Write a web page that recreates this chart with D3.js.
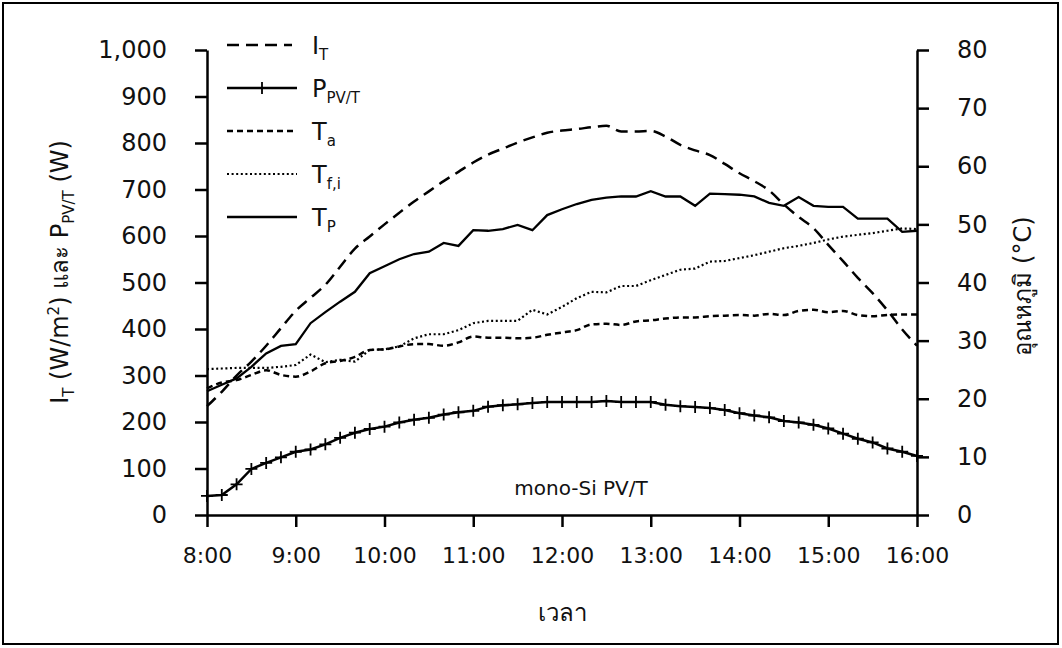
<!DOCTYPE html>
<html>
<head>
<meta charset="utf-8">
<script src="https://cdn.jsdelivr.net/npm/d3@7"></script>
<style>
  body { margin: 0; background: #fff; }
  svg { display: block; }
  text { font-family: 'DejaVu Sans', Tahoma, sans-serif; fill: #111; }
  .axis path, .axis line { stroke: #000; stroke-width: 2.5; }
  .axis text { font-family: 'DejaVu Sans', Tahoma, sans-serif; fill: #111; }
</style>
</head>
<body>
<svg width="1062" height="648"></svg>
<script>
// time of each reading, every 10 minutes
var times = ['8:00','8:10','8:20','8:30','8:40','8:50','9:00','9:10','9:20','9:30','9:40','9:50',
	'10:00','10:10','10:20','10:30','10:40','10:50','11:00','11:10','11:20','11:30','11:40','11:50',
	'12:00','12:10','12:20','12:30','12:40','12:50','13:00','13:10','13:20','13:30','13:40','13:50',
	'14:00','14:10','14:20','14:30','14:40','14:50','15:00','15:10','15:20','15:30','15:40','15:50','16:00'];

// solar irradiance I_T (W/m2), left axis
var irradiance = [234, 265, 300, 330, 364, 402, 439, 467, 495, 534, 573, 599, 625, 650, 674, 696, 718,
	738, 758, 775, 788, 801, 812, 822, 827, 830, 834, 837, 825, 825, 826, 814, 796,
	784, 774, 755, 735, 718, 698, 668, 641, 617, 581, 546, 510, 477, 440, 399, 364];

// electrical power P_PV/T (W), left axis
var power = [41, 43, 66, 99, 112, 124, 136, 141, 152, 166, 177, 185, 190, 199, 205, 209, 216,
	221, 224, 233, 236, 238, 241, 243, 243, 243, 243, 245, 243, 243, 243, 237, 234,
	232, 230, 226, 219, 214, 210, 202, 199, 194, 186, 175, 164, 156, 143, 136, 127];

// temperatures (C), right axis
var ambientTemp = [21.8, 22.8, 23.2, 24.1, 24.9, 24.1, 23.8, 24.7, 26.1, 26.5, 27.2, 28.4, 28.5, 29.0, 29.4, 29.4, 29.1,
	29.7, 30.7, 30.5, 30.5, 30.4, 30.5, 31.0, 31.4, 31.8, 32.8, 32.9, 32.7, 33.3, 33.5, 33.8, 34.0,
	34.0, 34.2, 34.3, 34.4, 34.3, 34.6, 34.4, 35.1, 35.3, 34.9, 35.1, 34.4, 34.2, 34.4, 34.5, 34.5];

var fluidInletTemp = [25.1, 25.2, 25.3, 25.3, 25.3, 25.5, 25.8, 27.6, 26.3, 26.7, 26.4, 28.4, 28.5, 29.0, 30.4, 31.1, 31.1,
	31.8, 33.0, 33.4, 33.4, 33.4, 35.3, 34.5, 35.8, 37.3, 38.4, 38.3, 39.4, 39.4, 40.4, 41.3, 42.2,
	42.4, 43.6, 43.7, 44.2, 44.7, 45.3, 45.9, 46.3, 46.8, 47.4, 47.9, 48.2, 48.5, 48.9, 49.3, 49.2];

var plateTemp = [21.3, 22.4, 23.5, 25.5, 27.8, 29.1, 29.4, 33.0, 34.9, 36.7, 38.4, 41.6, 42.8, 44.0, 44.9, 45.3, 46.8,
	46.3, 49.0, 48.9, 49.2, 49.9, 49.0, 51.6, 52.6, 53.5, 54.2, 54.6, 54.8, 54.8, 55.7, 54.8, 54.8,
	53.2, 55.3, 55.2, 55.1, 54.8, 53.7, 53.2, 54.7, 53.2, 53.0, 53.0, 51.0, 51.0, 51.0, 48.7, 48.9];

var hourTicks = ['8:00','9:00','10:00','11:00','12:00','13:00','14:00','15:00','16:00'];
var leftTicks = [0, 100, 200, 300, 400, 500, 600, 700, 800, 900, 1000];
var rightTicks = [0, 10, 20, 30, 40, 50, 60, 70, 80];

function toMinutes(s) {
	var parts = s.split(':');
	return +parts[0] * 60 + +parts[1];
}

var svg = d3.select('svg');

var plot = {l: 207, r: 917, t: 50, b: 515};

svg.append('rect')
	.attr('x', 3).attr('y', 3)
	.attr('width', 1055).attr('height', 641)
	.attr('fill', 'none')
	.attr('stroke', '#000')
	.attr('stroke-width', 2);

var xScale = d3.scaleLinear()
	.domain([toMinutes(times[0]), toMinutes(times[times.length - 1])])
	.range([plot.l, plot.r]);

var yLeft = d3.scaleLinear().domain([0, 1000]).range([plot.b, plot.t]);
var yRight = d3.scaleLinear().domain([0, 80]).range([plot.b, plot.t]);

// axes
svg.append('g')
	.attr('class', 'axis')
	.attr('transform', 'translate(0,' + plot.b + ')')
	.call(d3.axisBottom(xScale)
		.tickValues(hourTicks.map(toMinutes))
		.tickFormat(function(d, i) { return hourTicks[i]; })
		.tickSize(12).tickSizeOuter(0).tickPadding(20))
	.selectAll('text').style('font-size', '22px');

svg.append('g')
	.attr('class', 'axis')
	.attr('transform', 'translate(' + plot.l + ',0)')
	.call(d3.axisLeft(yLeft)
		.tickValues(leftTicks)
		.tickFormat(d3.format(','))
		.tickSize(12).tickSizeOuter(0).tickPadding(28))
	.selectAll('text').style('font-size', '24px');

svg.append('g')
	.attr('class', 'axis')
	.attr('transform', 'translate(' + plot.r + ',0)')
	.call(d3.axisRight(yRight)
		.tickValues(rightTicks)
		.tickSize(12).tickSizeOuter(0).tickPadding(28))
	.selectAll('text').style('font-size', '24px');

// series
function makeLine(scale, values, curve) {
	return d3.line()
		.x(function(d, i) { return xScale(toMinutes(times[i])); })
		.y(function(d) { return scale(d); })
		.curve(curve)(values);
}

var series = [
	{values: irradiance, scale: yLeft, dash: '12,7', width: 2.5, curve: d3.curveMonotoneX},
	{values: power, scale: yLeft, dash: null, width: 2.5, curve: d3.curveLinear},
	{values: ambientTemp, scale: yRight, dash: '6,4', width: 2.5, curve: d3.curveMonotoneX},
	{values: fluidInletTemp, scale: yRight, dash: '2,2.6', width: 2.2, curve: d3.curveLinear},
	{values: plateTemp, scale: yRight, dash: null, width: 2.3, curve: d3.curveLinear}
];

series.forEach(function(s) {
	svg.append('path')
		.attr('d', makeLine(s.scale, s.values, s.curve))
		.attr('fill', 'none')
		.attr('stroke', '#000')
		.attr('stroke-width', s.width)
		.attr('stroke-dasharray', s.dash);
});

// + markers on P_PV/T
svg.append('g').selectAll('path')
	.data(power)
	.enter()
	.append('path')
	.attr('transform', function(d, i) {
		return 'translate(' + xScale(toMinutes(times[i])) + ',' + yLeft(d) + ')';
	})
	.attr('d', 'M-6,0H6M0,-6V6')
	.attr('stroke', '#000')
	.attr('stroke-width', 1.8);

// legend
var legendItems = [
	{main: 'I', sub: 'T', dash: '12,7', width: 2.5},
	{main: 'P', sub: 'PV/T', dash: null, width: 2.5, marker: true},
	{main: 'T', sub: 'a', dash: '6,4', width: 2.5},
	{main: 'T', sub: 'f,i', dash: '2,2.6', width: 2.2},
	{main: 'T', sub: 'P', dash: null, width: 2.3}
];

var legend = svg.append('g');
legendItems.forEach(function(item, i) {
	var y = 45 + i * 43;
	legend.append('line')
		.attr('x1', 227).attr('x2', item.dash === '12,7' ? 292 : 297)
		.attr('y1', y).attr('y2', y)
		.attr('stroke', '#000')
		.attr('stroke-width', item.width)
		.attr('stroke-dasharray', item.dash);
	if (item.marker) {
		legend.append('path')
			.attr('transform', 'translate(262,' + y + ')')
			.attr('d', 'M-6,0H6M0,-6V6')
			.attr('stroke', '#000')
			.attr('stroke-width', 1.8);
	}
	var t = legend.append('text')
		.attr('x', 312).attr('y', y + 9)
		.style('font-size', '24px');
	t.append('tspan').text(item.main);
	t.append('tspan').attr('dy', 6).style('font-size', '15px').text(item.sub);
});

// axis titles
var leftTitle = svg.append('text')
	.attr('transform', 'translate(68,272) rotate(-90)')
	.attr('text-anchor', 'middle')
	.style('font-size', '24px');
leftTitle.append('tspan').text('I');
leftTitle.append('tspan').attr('dy', 6).style('font-size', '15px').text('T');
leftTitle.append('tspan').attr('dy', -6).text(' (W/m');
leftTitle.append('tspan').attr('dy', -9).style('font-size', '15px').text('2');
leftTitle.append('tspan').attr('dy', 9).text(') และ P');
leftTitle.append('tspan').attr('dy', 6).style('font-size', '15px').text('PV/T');
leftTitle.append('tspan').attr('dy', -6).text(' (W)');

svg.append('text')
	.attr('transform', 'translate(1031,286) rotate(-90)')
	.attr('text-anchor', 'middle')
	.style('font-size', '24px')
	.text('อุณหภูมิ (°C)');

svg.append('text')
	.attr('x', 581).attr('y', 495)
	.attr('text-anchor', 'middle')
	.style('font-size', '20px')
	.text('mono-Si PV/T');

svg.append('text')
	.attr('x', 562).attr('y', 621)
	.attr('text-anchor', 'middle')
	.style('font-size', '24px')
	.text('เวลา');
</script>
</body>
</html>
